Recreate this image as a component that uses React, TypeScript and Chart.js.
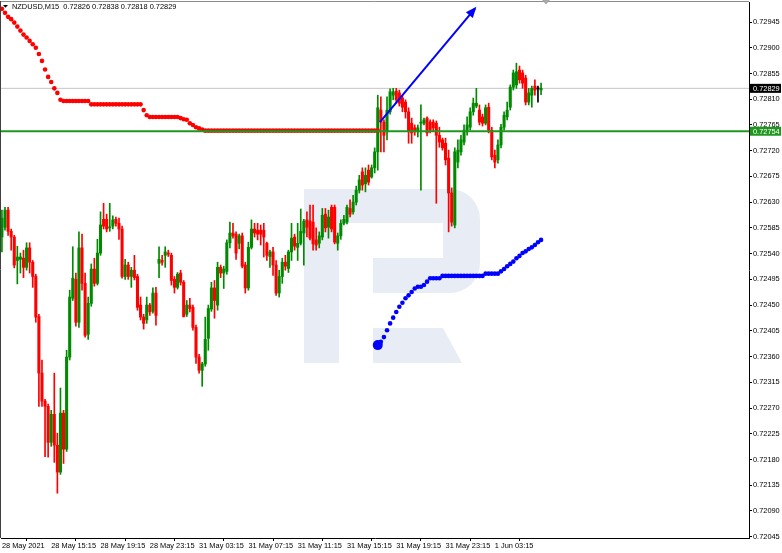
import React, { useEffect, useRef } from "react";
import { Chart, registerables } from "chart.js";

Chart.register(...registerables);

const TITLE = "NZDUSD,M15  0.72826 0.72838 0.72818 0.72829";

const xTickBars = [0, 16, 32, 48, 64, 80, 96, 112, 128, 144, 160];
const xTickLabels = [
  "28 May 2021", "28 May 15:15", "28 May 19:15", "28 May 23:15", "31 May 03:15",
  "31 May 07:15", "31 May 11:15", "31 May 15:15", "31 May 19:15", "31 May 23:15", "1 Jun 03:15",
];

const yTickValues = [
  0.72945, 0.729, 0.72855, 0.7281, 0.72765, 0.7272, 0.72675, 0.7263, 0.72585, 0.7254, 0.72495,
  0.7245, 0.72405, 0.7236, 0.72315, 0.7227, 0.72225, 0.7218, 0.72135, 0.7209, 0.72045,
];
const yTickLabels = [
  "0.72945", "0.72900", "0.72855", "0.72810", "0.72765", "0.72720", "0.72675", "0.72630", "0.72585", "0.72540", "0.72495",
  "0.72450", "0.72405", "0.72360", "0.72315", "0.72270", "0.72225", "0.72180", "0.72135", "0.72090", "0.72045",
];

const opens = [
  0.72569,0.72586,0.72616,0.72579,0.72569,0.72528,0.72530,0.72532,0.72516,0.72550,
  0.72525,0.72500,0.72430,0.72331,0.72282,0.72273,0.72210,0.72259,0.72205,0.72158,
  0.72261,0.72198,0.72359,0.72462,0.72495,0.72420,0.72550,0.72488,0.72399,0.72453,
  0.72513,0.72488,0.72541,0.72600,0.72600,0.72585,0.72588,0.72600,0.72593,0.72583,
  0.72500,0.72520,0.72500,0.72511,0.72500,0.72450,0.72429,0.72424,0.72450,0.72439,
  0.72471,0.72523,0.72528,0.72537,0.72541,0.72537,0.72495,0.72481,0.72506,0.72490,
  0.72434,0.72450,0.72446,0.72411,0.72359,0.72336,0.72347,0.72392,0.72443,0.72480,
  0.72450,0.72516,0.72506,0.72509,0.72559,0.72576,0.72574,0.72558,0.72571,0.72520,
  0.72480,0.72551,0.72583,0.72581,0.72581,0.72581,0.72558,0.72535,0.72543,0.72520,
  0.72471,0.72500,0.72525,0.72514,0.72543,0.72569,0.72551,0.72558,0.72576,0.72599,
  0.72597,0.72595,0.72564,0.72558,0.72569,0.72609,0.72586,0.72621,0.72621,0.72558,
  0.72571,0.72593,0.72595,0.72619,0.72613,0.72630,0.72651,0.72683,0.72662,0.72686,
  0.72674,0.72690,0.72718,0.72791,0.72770,0.72753,0.72788,0.72817,0.72824,0.72821,
  0.72812,0.72805,0.72788,0.72768,0.72760,0.72753,0.72768,0.72768,0.72777,0.72770,
  0.72770,0.72768,0.72747,0.72739,0.72733,0.72707,0.72646,0.72590,0.72700,0.72718,
  0.72735,0.72753,0.72761,0.72788,0.72798,0.72791,0.72779,0.72768,0.72796,0.72756,
  0.72712,0.72704,0.72730,0.72761,0.72779,0.72796,0.72831,0.72835,0.72861,0.72856,
  0.72847,0.72805,0.72817,0.72833,0.72828,0.72826,
];
const highs = [
  0.72616,0.72621,0.72621,0.72583,0.72572,0.72553,0.72541,0.72546,0.72559,0.72559,
  0.72528,0.72504,0.72434,0.72354,0.72285,0.72277,0.72266,0.72331,0.72226,0.72305,
  0.72266,0.72371,0.72476,0.72552,0.72506,0.72578,0.72574,0.72506,0.72464,0.72522,
  0.72532,0.72565,0.72613,0.72628,0.72609,0.72628,0.72606,0.72604,0.72602,0.72588,
  0.72530,0.72525,0.72516,0.72537,0.72504,0.72464,0.72434,0.72464,0.72453,0.72480,
  0.72481,0.72552,0.72537,0.72552,0.72546,0.72541,0.72500,0.72507,0.72511,0.72493,
  0.72458,0.72462,0.72450,0.72415,0.72364,0.72350,0.72429,0.72450,0.72490,0.72493,
  0.72525,0.72520,0.72518,0.72564,0.72595,0.72593,0.72578,0.72574,0.72576,0.72525,
  0.72560,0.72599,0.72593,0.72593,0.72590,0.72593,0.72560,0.72546,0.72551,0.72528,
  0.72511,0.72532,0.72537,0.72546,0.72593,0.72574,0.72593,0.72618,0.72600,0.72613,
  0.72625,0.72625,0.72585,0.72578,0.72619,0.72619,0.72616,0.72625,0.72625,0.72576,
  0.72599,0.72607,0.72625,0.72634,0.72642,0.72658,0.72677,0.72690,0.72690,0.72695,
  0.72695,0.72725,0.72817,0.72814,0.72774,0.72814,0.72828,0.72829,0.72829,0.72826,
  0.72817,0.72809,0.72795,0.72777,0.72765,0.72765,0.72800,0.72777,0.72779,0.72774,
  0.72774,0.72772,0.72761,0.72742,0.72742,0.72721,0.72655,0.72725,0.72739,0.72747,
  0.72765,0.72779,0.72795,0.72812,0.72829,0.72800,0.72784,0.72800,0.72803,0.72761,
  0.72721,0.72739,0.72766,0.72788,0.72805,0.72835,0.72861,0.72873,0.72868,0.72861,
  0.72852,0.72829,0.72833,0.72844,0.72833,0.72838,
];
const lows = [
  0.72543,0.72581,0.72572,0.72546,0.72515,0.72487,0.72506,0.72498,0.72511,0.72506,
  0.72481,0.72420,0.72273,0.72273,0.72185,0.72184,0.72203,0.72175,0.72121,0.72154,
  0.72173,0.72194,0.72354,0.72458,0.72413,0.72411,0.72476,0.72394,0.72390,0.72448,
  0.72483,0.72485,0.72537,0.72583,0.72578,0.72579,0.72583,0.72588,0.72565,0.72497,
  0.72495,0.72495,0.72481,0.72494,0.72441,0.72424,0.72408,0.72418,0.72432,0.72436,
  0.72415,0.72498,0.72520,0.72516,0.72535,0.72485,0.72471,0.72478,0.72485,0.72429,
  0.72430,0.72438,0.72406,0.72348,0.72331,0.72308,0.72343,0.72371,0.72439,0.72427,
  0.72441,0.72498,0.72479,0.72504,0.72550,0.72567,0.72530,0.72548,0.72515,0.72471,
  0.72476,0.72548,0.72569,0.72564,0.72555,0.72534,0.72528,0.72516,0.72502,0.72467,
  0.72464,0.72488,0.72511,0.72507,0.72528,0.72546,0.72528,0.72555,0.72520,0.72569,
  0.72564,0.72546,0.72546,0.72550,0.72564,0.72578,0.72567,0.72578,0.72557,0.72546,
  0.72565,0.72590,0.72592,0.72604,0.72609,0.72625,0.72646,0.72651,0.72648,0.72660,
  0.72672,0.72681,0.72686,0.72718,0.72718,0.72739,0.72784,0.72809,0.72803,0.72798,
  0.72788,0.72777,0.72733,0.72733,0.72747,0.72744,0.72651,0.72765,0.72746,0.72751,
  0.72754,0.72628,0.72726,0.72721,0.72695,0.72578,0.72588,0.72585,0.72690,0.72712,
  0.72730,0.72747,0.72756,0.72782,0.72795,0.72765,0.72763,0.72765,0.72751,0.72704,
  0.72690,0.72698,0.72725,0.72756,0.72774,0.72791,0.72826,0.72829,0.72838,0.72829,
  0.72800,0.72800,0.72796,0.72817,0.72805,0.72818,
];
const closes = [
  0.72602,0.72616,0.72579,0.72569,0.72520,0.72534,0.72534,0.72516,0.72550,0.72525,
  0.72500,0.72429,0.72331,0.72282,0.72273,0.72210,0.72259,0.72205,0.72158,0.72261,
  0.72198,0.72359,0.72464,0.72497,0.72420,0.72550,0.72488,0.72397,0.72453,0.72513,
  0.72488,0.72541,0.72590,0.72588,0.72583,0.72586,0.72599,0.72593,0.72583,0.72500,
  0.72520,0.72500,0.72511,0.72498,0.72446,0.72429,0.72418,0.72450,0.72438,0.72471,
  0.72432,0.72530,0.72525,0.72543,0.72539,0.72493,0.72481,0.72504,0.72490,0.72430,
  0.72450,0.72444,0.72411,0.72359,0.72336,0.72347,0.72390,0.72444,0.72480,0.72458,
  0.72516,0.72506,0.72513,0.72559,0.72576,0.72571,0.72541,0.72571,0.72518,0.72480,
  0.72551,0.72583,0.72576,0.72574,0.72574,0.72569,0.72537,0.72543,0.72520,0.72471,
  0.72500,0.72525,0.72518,0.72543,0.72567,0.72553,0.72558,0.72579,0.72597,0.72586,
  0.72567,0.72557,0.72555,0.72571,0.72607,0.72585,0.72604,0.72583,0.72560,0.72571,
  0.72593,0.72600,0.72621,0.72609,0.72630,0.72651,0.72669,0.72660,0.72677,0.72665,
  0.72690,0.72718,0.72795,0.72770,0.72747,0.72791,0.72823,0.72823,0.72809,0.72803,
  0.72796,0.72788,0.72753,0.72751,0.72753,0.72760,0.72770,0.72774,0.72751,0.72756,
  0.72760,0.72747,0.72735,0.72725,0.72704,0.72646,0.72595,0.72718,0.72721,0.72739,
  0.72756,0.72765,0.72788,0.72803,0.72803,0.72770,0.72768,0.72795,0.72756,0.72709,
  0.72700,0.72730,0.72761,0.72782,0.72791,0.72831,0.72856,0.72858,0.72844,0.72838,
  0.72805,0.72821,0.72829,0.72826,0.72828,0.72829,
];

// trailing stop dots (red, above price) starting at bar 0
const redStopStart = 0;
const redStops = [
  0.72968,0.72961,0.72954,0.72950,0.72944,0.72937,0.72930,0.72923,0.72918,0.72912,
  0.72906,0.72900,0.72889,0.72877,0.72862,0.72849,0.72840,0.72829,0.72821,0.72809,
  0.72807,0.72807,0.72807,0.72807,0.72807,0.72807,0.72807,0.72807,0.72807,
  0.72801,0.72801,0.72801,0.72801,0.72801,0.72801,0.72801,0.72801,0.72801,0.72801,
  0.72801,0.72801,0.72801,0.72801,0.72801,0.72801,0.72801,
  0.72791,0.72782,
  0.72779,0.72779,0.72779,0.72779,0.72779,0.72779,0.72779,0.72779,0.72779,0.72779,
  0.72777,0.72775,0.72774,0.72768,0.72765,0.72761,0.72759,0.72757,
  0.72755,0.72755,0.72755,0.72755,0.72755,0.72755,0.72755,0.72755,0.72755,0.72755,
  0.72755,0.72755,0.72755,0.72755,0.72755,0.72755,0.72755,0.72755,0.72755,0.72755,
  0.72755,0.72755,0.72755,0.72755,0.72755,0.72755,0.72755,0.72755,0.72755,0.72755,
  0.72755,0.72755,0.72755,0.72755,0.72755,0.72755,0.72755,0.72755,0.72755,0.72755,
  0.72755,0.72755,0.72755,0.72755,0.72755,0.72755,0.72755,0.72755,0.72755,0.72755,
  0.72755,0.72755,0.72755,0.72755,0.72755,0.72755,0.72755,
];

// trailing stop dots (blue, below price) starting at bar 122
const blueStopStart = 122;
const blueStops = [
  0.72380,0.72386,0.72394,0.72406,0.72418,0.72428,0.72438,0.72447,0.72454,0.72462,
  0.72467,0.72473,0.72479,0.72482,0.72482,0.72485,0.72491,0.72497,0.72497,0.72497,0.72497,
  0.72501,0.72501,0.72501,0.72501,0.72501,0.72501,0.72501,0.72501,0.72501,0.72501,
  0.72501,0.72501,0.72501,0.72501,
  0.72505,0.72505,0.72505,0.72505,0.72505,
  0.72509,0.72513,0.72518,0.72522,0.72526,0.72532,0.72536,0.72541,0.72544,0.72548,
  0.72551,0.72555,0.72560,0.72564,
];

const arrowBars = [122.7, 153.6];
const arrowPrices = [0.7277, 0.72969];

const bidPrice = 0.72829;
const bidLabel = "0.72829";
const levelPrice = 0.72754;
const levelLabel = "0.72754";

const X_MIN = -0.3;
const X_MAX = 242.5;
const Y_MIN = 0.720427;
const Y_MAX = 0.7298;
const SHIFT_MARKER_BAR = 176.6;

const BULL = "#008a00";
const BEAR = "#ff0000";
const DOJI = "#000000";
const LEVEL_GREEN = "#1f971f";
const FONT_FAMILY = "'Liberation Sans', Arial, sans-serif";
const FONT_SIZE = 7.4;

const overlayPlugin = {
  id: "mtOverlay",
  beforeDatasetsDraw(chart: any) {
    const { ctx, chartArea } = chart;
    const ox = chartArea.left - 1;
    const oy = chartArea.top - 2;
    ctx.save();
    ctx.fillStyle = "#e8edf5";
    ctx.fillRect(ox + 304, oy + 189, 35, 174);
    ctx.beginPath();
    ctx.moveTo(ox + 339, oy + 189);
    ctx.lineTo(ox + 450, oy + 189);
    ctx.arcTo(ox + 480, oy + 189, ox + 480, oy + 219, 30);
    ctx.lineTo(ox + 480, oy + 263);
    ctx.arcTo(ox + 480, oy + 293, ox + 450, oy + 293, 30);
    ctx.lineTo(ox + 373, oy + 293);
    ctx.lineTo(ox + 373, oy + 258);
    ctx.lineTo(ox + 443, oy + 258);
    ctx.lineTo(ox + 443, oy + 223);
    ctx.lineTo(ox + 339, oy + 223);
    ctx.closePath();
    ctx.fill();
    ctx.beginPath();
    ctx.moveTo(ox + 373, oy + 328);
    ctx.lineTo(ox + 443, oy + 328);
    ctx.lineTo(ox + 462, oy + 363);
    ctx.lineTo(ox + 373, oy + 363);
    ctx.closePath();
    ctx.fill();
    ctx.restore();
  },
  afterDatasetsDraw(chart: any) {
    const { ctx } = chart;
    const meta = chart.getDatasetMeta(0);
    if (!meta || !meta.data || meta.data.length < 2) return;
    const p0 = meta.data[0];
    const p1 = meta.data[1];
    const ang = Math.atan2(p1.y - p0.y, p1.x - p0.x);
    const len = 11;
    const half = 4.5;
    ctx.save();
    ctx.fillStyle = "#0000ff";
    ctx.beginPath();
    ctx.moveTo(p1.x + Math.cos(ang) * 2, p1.y + Math.sin(ang) * 2);
    const bx = p1.x - Math.cos(ang) * (len - 2);
    const by = p1.y - Math.sin(ang) * (len - 2);
    ctx.lineTo(bx + Math.cos(ang + Math.PI / 2) * half, by + Math.sin(ang + Math.PI / 2) * half);
    ctx.lineTo(bx - Math.cos(ang + Math.PI / 2) * half, by - Math.sin(ang + Math.PI / 2) * half);
    ctx.closePath();
    ctx.fill();
    ctx.restore();
  },
  afterDraw(chart: any) {
    const { ctx, chartArea, scales } = chart;
    const { left, top, right, bottom } = chartArea;
    ctx.save();
    ctx.lineWidth = 1;
    ctx.strokeStyle = "#8c8c8c";
    ctx.beginPath();
    ctx.moveTo(0, top - 0.5);
    ctx.lineTo(right, top - 0.5);
    ctx.stroke();
    ctx.strokeStyle = "#404040";
    ctx.beginPath();
    ctx.moveTo(left - 0.5, top - 1);
    ctx.lineTo(left - 0.5, bottom);
    ctx.stroke();
    const sx = scales.x.getPixelForValue(SHIFT_MARKER_BAR);
    ctx.fillStyle = "#a8a8a8";
    ctx.beginPath();
    ctx.moveTo(sx - 4, 0);
    ctx.lineTo(sx + 4, 0);
    ctx.lineTo(sx, 4.5);
    ctx.closePath();
    ctx.fill();
    ctx.fillStyle = "#000";
    ctx.beginPath();
    ctx.moveTo(3, 5);
    ctx.lineTo(8, 5);
    ctx.lineTo(5.5, 7.8);
    ctx.closePath();
    ctx.fill();
    ctx.font = `${FONT_SIZE}px ${FONT_FAMILY}`;
    ctx.textBaseline = "middle";
    ctx.textAlign = "left";
    ctx.fillText(TITLE, 12, 7);
    const boxes = [
      { v: levelPrice, t: levelLabel, bg: LEVEL_GREEN },
      { v: bidPrice, t: bidLabel, bg: "#000000" },
    ];
    for (const b of boxes) {
      const yy = scales.y.getPixelForValue(b.v);
      ctx.fillStyle = b.bg;
      ctx.fillRect(right + 1, yy - 4.5, 31, 9);
      ctx.fillStyle = "#ffffff";
      ctx.fillText(b.t, right + 4, yy + 0.3);
    }
    ctx.restore();
  },
};

export default function App() {
  const ref = useRef<HTMLCanvasElement>(null);
  useEffect(() => {
    const canvas = ref.current;
    if (!canvas) return;
    const bodyData = opens.map((o, i) => ({ x: i, y: [o, closes[i]] }));
    const wickData = opens.map((_, i) => ({ x: i, y: [lows[i], highs[i]] }));
    const colors = opens.map((o, i) => (closes[i] > o ? BULL : closes[i] < o ? BEAR : DOJI));
    const redData = redStops.map((v, k) => ({ x: redStopStart + k, y: v }));
    const blueData = blueStops.map((v, k) => ({ x: blueStopStart + k, y: v }));
    const arrowData = arrowBars.map((b, k) => ({ x: b, y: arrowPrices[k] }));
    const tickFont = { family: FONT_FAMILY, size: FONT_SIZE };
    const zeroPad = (s: any) => {
      s.paddingLeft = 0;
      s.paddingRight = 0;
      s.paddingTop = 0;
      s.paddingBottom = 0;
    };

    const chart = new Chart(canvas, {
      type: "bar",
      data: {
        datasets: [
          { type: "line", data: arrowData, borderColor: "#0000ff", borderWidth: 2, pointRadius: 0, order: 0 } as any,
          {
            type: "line",
            data: [{ x: X_MIN, y: levelPrice }, { x: X_MAX, y: levelPrice }],
            borderColor: LEVEL_GREEN,
            borderWidth: 2,
            pointRadius: 0,
            order: 1,
          } as any,
          {
            type: "line",
            data: blueData,
            showLine: false,
            pointRadius: (c: any) => (c.dataIndex === 0 ? 5 : 2.3),
            pointBorderWidth: 0,
            pointBackgroundColor: "#0000ff",
            order: 2,
          } as any,
          {
            type: "line",
            data: redData,
            showLine: false,
            pointRadius: 2.3,
            pointBorderWidth: 0,
            pointBackgroundColor: "#ff0000",
            order: 3,
          } as any,
          {
            type: "bar",
            data: bodyData,
            backgroundColor: colors,
            barThickness: 2.4,
            minBarLength: 1,
            grouped: false,
            borderWidth: 0,
            order: 4,
          } as any,
          {
            type: "bar",
            data: wickData,
            backgroundColor: colors,
            barThickness: 1,
            grouped: false,
            borderWidth: 0,
            order: 5,
          } as any,
          {
            type: "line",
            data: [{ x: X_MIN, y: bidPrice }, { x: X_MAX, y: bidPrice }],
            borderColor: "#c6c6c6",
            borderWidth: 1,
            pointRadius: 0,
            order: 6,
          } as any,
        ],
      },
      options: {
        animation: false,
        responsive: false,
        devicePixelRatio: 1,
        events: [],
        layout: { autoPadding: false, padding: { left: 1, top: 2, right: 0, bottom: 0 } },
        plugins: { legend: { display: false }, tooltip: { enabled: false } },
        scales: {
          x: {
            type: "linear",
            min: X_MIN,
            max: X_MAX,
            offset: false,
            bounds: "data",
            afterBuildTicks: (s: any) => {
              s.ticks = xTickBars.map((v) => ({ value: v }));
            },
            afterFit: (s: any) => {
              s.height = 15;
              zeroPad(s);
            },
            grid: { display: true, drawOnChartArea: false, drawTicks: true, tickLength: 3, color: "#000" },
            border: { display: true, color: "#000", width: 1 },
            ticks: {
              align: "start",
              padding: 1,
              maxRotation: 0,
              minRotation: 0,
              autoSkip: false,
              color: "#000",
              font: tickFont,
              callback: (_v: any, i: number) => xTickLabels[i],
            },
          } as any,
          y: {
            type: "linear",
            position: "right",
            min: Y_MIN,
            max: Y_MAX,
            bounds: "data",
            afterBuildTicks: (s: any) => {
              s.ticks = yTickValues.map((v) => ({ value: v }));
            },
            afterFit: (s: any) => {
              s.width = 33;
              zeroPad(s);
            },
            grid: { display: true, drawOnChartArea: false, drawTicks: true, tickLength: 3, color: "#000" },
            border: { display: true, color: "#000", width: 1 },
            ticks: {
              padding: 1,
              autoSkip: false,
              color: "#000",
              font: tickFont,
              callback: (_v: any, i: number) => yTickLabels[i],
            },
          } as any,
        },
      },
      plugins: [overlayPlugin],
    } as any);
    return () => chart.destroy();
  }, []);

  return (
    <div style={{ position: "fixed", left: 0, top: 0, width: 782, height: 553, background: "#fff" }}>
      <canvas ref={ref} width={782} height={553} style={{ display: "block", width: 782, height: 553 }} />
    </div>
  );
}
